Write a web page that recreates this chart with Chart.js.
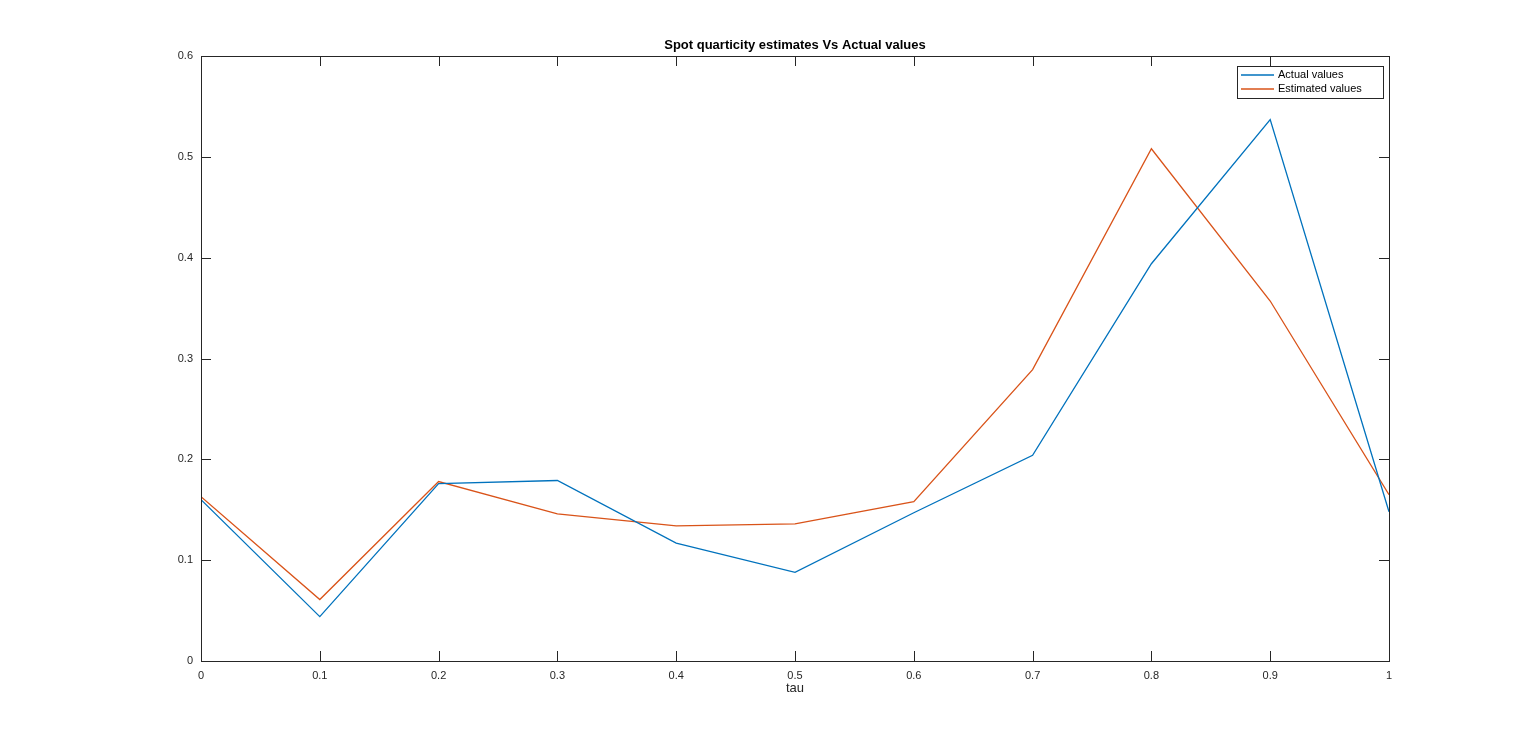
<!DOCTYPE html>
<html>
<head>
<meta charset="utf-8">
<script src="https://cdn.jsdelivr.net/npm/chart.js@4"></script>
<style>
  html, body { margin: 0; padding: 0; background: #fff; }
  #wrap { width: 1536px; height: 744px; }
</style>
</head>
<body>
<div id="wrap"><canvas id="chart"></canvas></div>
<script>
const tau = [0, 0.1, 0.2, 0.3, 0.4, 0.5, 0.6, 0.7, 0.8, 0.9, 1];
const actualValues = [0.160, 0.044, 0.176, 0.179, 0.117, 0.088, 0.147, 0.204, 0.394, 0.537, 0.148];
const estimatedValues = [0.163, 0.061, 0.178, 0.146, 0.134, 0.136, 0.158, 0.289, 0.508, 0.357, 0.165];
const chartTitle = 'Spot quarticity estimates Vs Actual values';
const xTitle = 'tau';

const FONT = 'Liberation Sans, Arial, sans-serif';

function points(ys) {
    return tau.map((x, i) => ({ x, y: ys[i] }));
}

// box, inward ticks, title and legend in MATLAB style
const matlabFrame = {
    id: 'matlabFrame',
    afterDraw(chart) {
        const c = chart.ctx, a = chart.chartArea;
        const xs = chart.scales.x, ys = chart.scales.y;
        c.save();
        c.strokeStyle = '#262626';
        c.lineWidth = 1;
        c.strokeRect(a.left + 0.5, a.top + 0.5, a.right - a.left, a.bottom - a.top);
        c.beginPath();
        xs.ticks.forEach(t => {
            let p = Math.round(xs.getPixelForValue(t.value)) + 0.5;
            c.moveTo(p, a.bottom); c.lineTo(p, a.bottom - 10);
            c.moveTo(p, a.top); c.lineTo(p, a.top + 10);
        });
        ys.ticks.forEach(t => {
            let p = Math.round(ys.getPixelForValue(t.value)) + 0.5;
            c.moveTo(a.left, p); c.lineTo(a.left + 10, p);
            c.moveTo(a.right, p); c.lineTo(a.right - 10, p);
        });
        c.stroke();

        c.fillStyle = '#000';
        c.font = 'bold 13px ' + FONT;
        c.textAlign = 'center';
        c.textBaseline = 'bottom';
        c.fillText(chartTitle, (a.left + a.right) / 2, a.top - 4);

        // legend
        let lx = 1237, ly = 66, lw = 146, lh = 32;
        c.fillStyle = '#fff';
        c.fillRect(lx, ly, lw, lh);
        c.strokeRect(lx + 0.5, ly + 0.5, lw, lh);
        c.font = '11px ' + FONT;
        c.textAlign = 'left';
        c.textBaseline = 'middle';
        chart.data.datasets.forEach((ds, i) => {
            let yy = ly + 9 + i * 14;
            c.strokeStyle = ds.borderColor;
            c.lineWidth = 1.5;
            c.beginPath(); c.moveTo(lx + 4, yy); c.lineTo(lx + 37, yy); c.stroke();
            c.fillStyle = '#000';
            c.fillText(ds.label, lx + 41, yy);
        });
        c.restore();
    }
};

new Chart(document.getElementById('chart').getContext('2d'), {
    type: 'line',
    data: {
        datasets: [
            { label: 'Actual values', data: points(actualValues), borderColor: '#0072BD', borderWidth: 1.3, pointRadius: 0, tension: 0 },
            { label: 'Estimated values', data: points(estimatedValues), borderColor: '#D95319', borderWidth: 1.3, pointRadius: 0, tension: 0 }
        ]
    },
    options: {
        responsive: true,
        maintainAspectRatio: false,
        animation: false,
        layout: { padding: { top: 56, right: 147, left: 0, bottom: 44 } },
        plugins: { legend: { display: false }, tooltip: { enabled: false } },
        scales: {
            x: {
                type: 'linear', min: 0, max: 1,
                grid: { display: false, drawTicks: false },
                border: { display: false },
                ticks: { stepSize: 0.1, color: '#262626', font: { family: FONT, size: 11 }, padding: 8,
                    callback: v => String(Math.round(v * 10) / 10) },
                title: { display: true, text: xTitle, color: '#262626', font: { family: FONT, size: 13 }, padding: { top: 2 } },
                afterFit(s) { s.height = 39; }
            },
            y: {
                min: 0, max: 0.6,
                grid: { display: false, drawTicks: false },
                border: { display: false },
                ticks: { stepSize: 0.1, color: '#262626', font: { family: FONT, size: 11 }, padding: 8,
                    callback: v => String(Math.round(v * 10) / 10) },
                afterFit(s) { s.width = 201; }
            }
        }
    },
    plugins: [matlabFrame]
});
</script>
</body>
</html>
